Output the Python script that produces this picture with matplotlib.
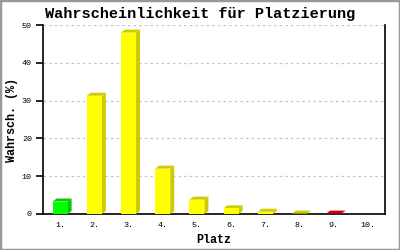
import matplotlib
matplotlib.use("Agg")
import matplotlib.pyplot as plt
from matplotlib.patches import Polygon, Rectangle

places = ["1.", "2.", "3.", "4.", "5.", "6.", "7.", "8.", "9.", "10."]
values = [3.3, 31.3, 48.0, 12.0, 3.8, 1.5, 0.6, 0.1, 0.1, 0.0]
front_colors = ["#00ff00", "#ffff00", "#ffff00", "#ffff00", "#ffff00", "#ffff00", "#ffff00", "#ffff00", "#ff0000", "#ffff00"]
side_colors = ["#00cc00", "#cccc00", "#cccc00", "#cccc00", "#cccc00", "#cccc00", "#cccc00", "#cccc00", "#cc0000", "#cccc00"]
yticks = [0, 10, 20, 30, 40, 50]

W, H = 400, 250
fig = plt.figure(figsize=(W / 100, H / 100), dpi=100)
fig.patch.set_facecolor("white")
fig.patches.append(Rectangle((0, 0), 1, 1, transform=fig.transFigure, fill=False,
                             edgecolor="#999999", linewidth=2.5))

ax_l, ax_r, ax_t, ax_b = 43, 385, 25, 214
ax = fig.add_axes([ax_l / W, 1 - ax_b / H, (ax_r - ax_l) / W, (ax_b - ax_t) / H])
ax.set_xlim(-0.5, len(places) - 0.5)
ax.set_ylim(0, 50)

mono = "Liberation Mono"
bw = 0.44
dx = 4 * (len(places)) / (ax_r - ax_l)
dy = 3 * 50 / (ax_b - ax_t)
for i, (v, fc, sc) in enumerate(zip(values, front_colors, side_colors)):
    x0, x1 = i - bw / 2, i + bw / 2
    if v > 0:
        top = Polygon([(x0, v), (x1, v), (x1 + dx, v + dy), (x0 + dx, v + dy)],
                      closed=True, facecolor=sc, edgecolor="none", zorder=3)
        side = Polygon([(x1, 0), (x1 + dx, dy), (x1 + dx, v + dy), (x1, v)],
                       closed=True, facecolor=sc, edgecolor="none", zorder=3)
        ax.add_patch(top)
        ax.add_patch(side)
ax.bar(range(len(places)), values, width=bw, color=front_colors, edgecolor="none", zorder=4)

for y in yticks[1:]:
    ax.axhline(y, color="#c4c4c4", linestyle=(0, (2, 2.5)), linewidth=0.9, zorder=1)

ax.set_xticks(range(len(places)))
ax.set_xticklabels(places, fontfamily=mono, fontsize=6)
ax.tick_params(axis="x", length=0, pad=6)
ax.set_yticks(yticks)
ax.set_yticklabels([str(t) for t in yticks], fontfamily=mono, fontsize=6)
ax.tick_params(axis="y", length=5, width=1.2, direction="out", pad=3)

ax.spines["top"].set_visible(False)
for s in ["left", "right", "bottom"]:
    ax.spines[s].set_linewidth(1.2)
    ax.spines[s].set_color("black")

fig.text(200 / W, 1 - 14 / H, "Wahrscheinlichkeit für Platzierung", fontfamily=mono,
         fontweight="bold", fontsize=11, ha="center", va="center")
fig.text(214 / W, 1 - 240 / H, "Platz", fontfamily=mono, fontweight="bold",
         fontsize=8.5, ha="center", va="center")
fig.text(12 / W, 1 - 120 / H, "Wahrsch. (%)", fontfamily=mono, fontweight="bold",
         fontsize=8.5, ha="center", va="center", rotation=90)

fig.savefig("out.png", dpi=100)
